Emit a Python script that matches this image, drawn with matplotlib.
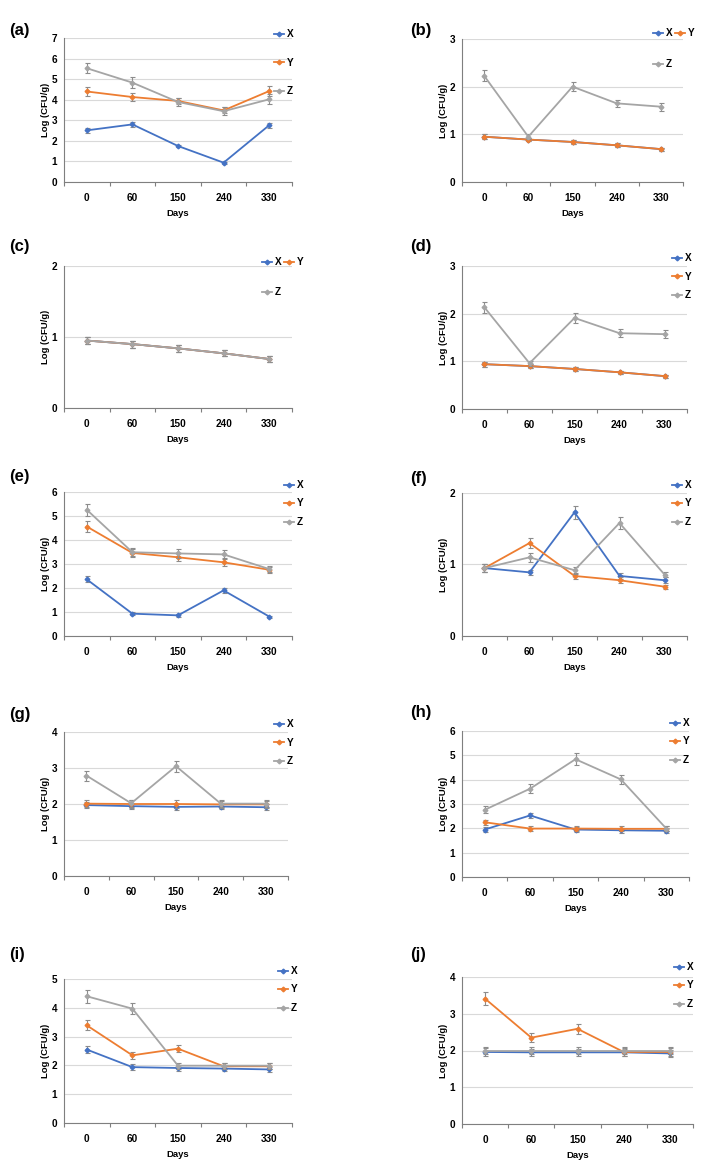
import matplotlib
matplotlib.use("Agg")
import matplotlib.pyplot as plt
from matplotlib.lines import Line2D

plt.rcParams['font.family'] = ['Liberation Sans', 'DejaVu Sans']

W, H = 705, 1164
DAYS = ["0", "60", "150", "240", "330"]
SERIES = ["X", "Y", "Z"]
COLORS = {"X": "#4472C4", "Y": "#ED7D31", "Z": "#A5A5A5"}

# ---- data (Log CFU/g) ----
A_X = [2.51, 2.80, 1.75, 0.94, 2.76]; A_XE = [0.12, 0.12, 0.06, 0.05, 0.12]
A_Y = [4.40, 4.13, 3.94, 3.48, 4.42]; A_YE = [0.22, 0.20, 0.15, 0.15, 0.25]
A_Z = [5.53, 4.83, 3.89, 3.44, 4.02]; A_ZE = [0.25, 0.25, 0.20, 0.20, 0.25]

B_X = [0.95, 0.89, 0.84, 0.77, 0.69]; B_XE = [0.05, 0.04, 0.04, 0.04, 0.03]
B_Y = [0.95, 0.89, 0.84, 0.77, 0.69]; B_YE = [0.05, 0.04, 0.04, 0.04, 0.03]
B_Z = [2.23, 0.95, 2.00, 1.65, 1.58]; B_ZE = [0.12, 0.05, 0.10, 0.08, 0.08]

C_X = [0.95, 0.90, 0.84, 0.77, 0.69]; C_XE = [0.05, 0.05, 0.05, 0.04, 0.04]
C_Y = [0.95, 0.90, 0.84, 0.77, 0.69]; C_YE = [0.05, 0.05, 0.05, 0.04, 0.04]
C_Z = [0.95, 0.90, 0.84, 0.77, 0.69]; C_ZE = [0.05, 0.05, 0.05, 0.04, 0.04]

D_X = [0.94, 0.90, 0.84, 0.77, 0.69]; D_XE = [0.05, 0.04, 0.04, 0.03, 0.03]
D_Y = [0.94, 0.90, 0.84, 0.77, 0.69]; D_YE = [0.05, 0.04, 0.04, 0.03, 0.03]
D_Z = [2.13, 0.96, 1.91, 1.59, 1.57]; D_ZE = [0.12, 0.05, 0.10, 0.08, 0.08]

E_X = [2.36, 0.93, 0.86, 1.90, 0.81]; E_XE = [0.12, 0.05, 0.05, 0.10, 0.04]
E_Y = [4.56, 3.46, 3.28, 3.07, 2.76]; E_YE = [0.22, 0.17, 0.17, 0.15, 0.12]
E_Z = [5.26, 3.49, 3.44, 3.40, 2.79]; E_ZE = [0.25, 0.17, 0.17, 0.17, 0.14]

F_X = [0.95, 0.89, 1.73, 0.84, 0.78]; F_XE = [0.05, 0.04, 0.09, 0.04, 0.04]
F_Y = [0.95, 1.30, 0.84, 0.78, 0.69]; F_YE = [0.05, 0.07, 0.04, 0.04, 0.03]
F_Z = [0.95, 1.10, 0.92, 1.58, 0.86]; F_ZE = [0.05, 0.06, 0.05, 0.08, 0.04]

G_X = [1.97, 1.94, 1.92, 1.93, 1.91]; G_XE = [0.08, 0.08, 0.08, 0.08, 0.08]
G_Y = [2.01, 2.00, 2.00, 1.99, 1.99]; G_YE = [0.10, 0.10, 0.10, 0.10, 0.10]
G_Z = [2.79, 2.02, 3.05, 2.01, 2.01]; G_ZE = [0.14, 0.10, 0.15, 0.10, 0.10]

H_X = [1.95, 2.53, 1.95, 1.92, 1.90]; H_XE = [0.10, 0.12, 0.10, 0.10, 0.10]
H_Y = [2.25, 1.99, 1.99, 1.98, 1.98]; H_YE = [0.11, 0.10, 0.10, 0.10, 0.10]
H_Z = [2.76, 3.63, 4.84, 4.01, 1.99]; H_ZE = [0.14, 0.18, 0.24, 0.20, 0.10]

I_X = [2.55, 1.94, 1.91, 1.89, 1.86]; I_XE = [0.13, 0.10, 0.10, 0.10, 0.09]
I_Y = [3.39, 2.35, 2.58, 1.97, 1.97]; I_YE = [0.17, 0.12, 0.13, 0.10, 0.10]
I_Z = [4.40, 3.97, 1.99, 1.99, 1.99]; I_ZE = [0.22, 0.20, 0.10, 0.10, 0.10]

J_X = [1.96, 1.95, 1.95, 1.95, 1.92]; J_XE = [0.10, 0.10, 0.10, 0.10, 0.10]
J_Y = [3.41, 2.35, 2.59, 1.96, 1.96]; J_YE = [0.17, 0.12, 0.13, 0.10, 0.10]
J_Z = [2.00, 2.00, 2.00, 2.00, 2.00]; J_ZE = [0.10, 0.10, 0.10, 0.10, 0.10]

PANEL_LABELS = ["(a)", "(b)", "(c)", "(d)", "(e)", "(f)", "(g)", "(h)", "(i)", "(j)"]
YMAX = [7, 3, 2, 3, 6, 2, 4, 6, 5, 4]

# ---- layout (pixels) ----
# axes box: left, top, right, bottom
BOXES = [(64, 38, 292, 182), (462, 39, 683, 182),
         (64, 266, 292, 408), (462, 266, 687, 409),
         (64, 492, 292, 636), (462, 493, 687, 636),
         (64, 732, 288, 876), (462, 731, 689, 877),
         (64, 979, 292, 1123), (462, 977, 693, 1124)]
LABEL_POS = [(9, 31), (410, 30), (9, 247), (410, 247), (9, 477),
             (410, 479), (9, 714), (410, 713), (9, 954), (410, 954)]
# legend anchor (upper-left px), two-row layout flag, label spacing
LEG = [(274, 29, False, 1.85), (653, 28, True, 2.1),
       (262, 257, True, 2.0), (672, 253, False, 0.85),
       (284, 480, False, 0.85), (672, 480, False, 0.85),
       (274, 719, False, 0.85), (670, 718, False, 0.85),
       (278, 966, False, 0.85), (674, 962, False, 0.85)]

DATA = [(A_X, A_XE, A_Y, A_YE, A_Z, A_ZE), (B_X, B_XE, B_Y, B_YE, B_Z, B_ZE),
        (C_X, C_XE, C_Y, C_YE, C_Z, C_ZE), (D_X, D_XE, D_Y, D_YE, D_Z, D_ZE),
        (E_X, E_XE, E_Y, E_YE, E_Z, E_ZE), (F_X, F_XE, F_Y, F_YE, F_Z, F_ZE),
        (G_X, G_XE, G_Y, G_YE, G_Z, G_ZE), (H_X, H_XE, H_Y, H_YE, H_Z, H_ZE),
        (I_X, I_XE, I_Y, I_YE, I_Z, I_ZE), (J_X, J_XE, J_Y, J_YE, J_Z, J_ZE)]

fig = plt.figure(figsize=(W / 100, H / 100), dpi=100)
fig.patch.set_facecolor("white")

xpos = list(range(len(DAYS)))
for k in range(10):
    l, t, r, b = BOXES[k]
    ax = fig.add_axes([l / W, 1 - b / H, (r - l) / W, (b - t) / H])
    vals = DATA[k]
    handles = {}
    for si, s in enumerate(SERIES):
        y = vals[2 * si]
        e = vals[2 * si + 1]
        ax.errorbar(xpos, y, yerr=e, color=COLORS[s], ecolor="#8c8c8c",
                    elinewidth=0.8, capsize=1.8, capthick=0.8, lw=1.3,
                    marker="D", ms=2.4, zorder=3 + si)
        handles[s] = Line2D([], [], color=COLORS[s], lw=1.3, marker="D", ms=2.4)
    ax.set_xlim(-0.5, 4.5)
    ax.set_ylim(0, YMAX[k])
    ax.set_yticks(range(0, YMAX[k] + 1))
    ax.set_xticks(xpos)
    ax.set_xticklabels(DAYS)
    ax.set_xticks([i - 0.5 for i in range(6)], minor=True)
    ax.tick_params(axis="x", which="major", length=0, pad=8, labelsize=7.2)
    ax.tick_params(axis="x", which="minor", length=3, color="#7f7f7f", width=0.8)
    ax.tick_params(axis="y", length=0, pad=5, labelsize=7.2)
    for lab in ax.get_xticklabels() + ax.get_yticklabels():
        lab.set_fontweight("bold")
    ax.grid(axis="y", color="#d9d9d9", lw=0.8)
    ax.set_axisbelow(True)
    for sp in ["top", "right"]:
        ax.spines[sp].set_visible(False)
    ax.spines["left"].set_color("#7f7f7f")
    ax.spines["bottom"].set_color("#7f7f7f")
    ax.spines["left"].set_linewidth(0.8)
    ax.spines["bottom"].set_linewidth(0.8)
    ax.set_xlabel("Days", fontsize=6.8, fontweight="bold", labelpad=4)
    ax.set_ylabel("Log (CFU/g)", fontsize=6.8, fontweight="bold", labelpad=1)

    lx, ly, tworow, lsp = LEG[k]
    if tworow:
        hl = [handles["X"], handles["Z"], handles["Y"]]
        ll = ["X", "Z", "Y"]
        ncol = 2
    else:
        hl = [handles[s] for s in SERIES]
        ll = SERIES
        ncol = 1
    ax.legend(hl, ll, loc="upper left", bbox_to_anchor=(lx / W, 1 - ly / H),
              bbox_transform=fig.transFigure, frameon=False, ncol=ncol,
              handlelength=1.0, handletextpad=0.25,
              labelspacing=lsp, borderpad=0, borderaxespad=0,
              columnspacing=0.3, prop={"weight": "bold", "size": 7.2})

    px, py = LABEL_POS[k]
    fig.text(px / W, 1 - py / H, PANEL_LABELS[k], fontsize=12, fontweight="bold",
             ha="left", va="center")

fig.savefig("out.png", dpi=100)
